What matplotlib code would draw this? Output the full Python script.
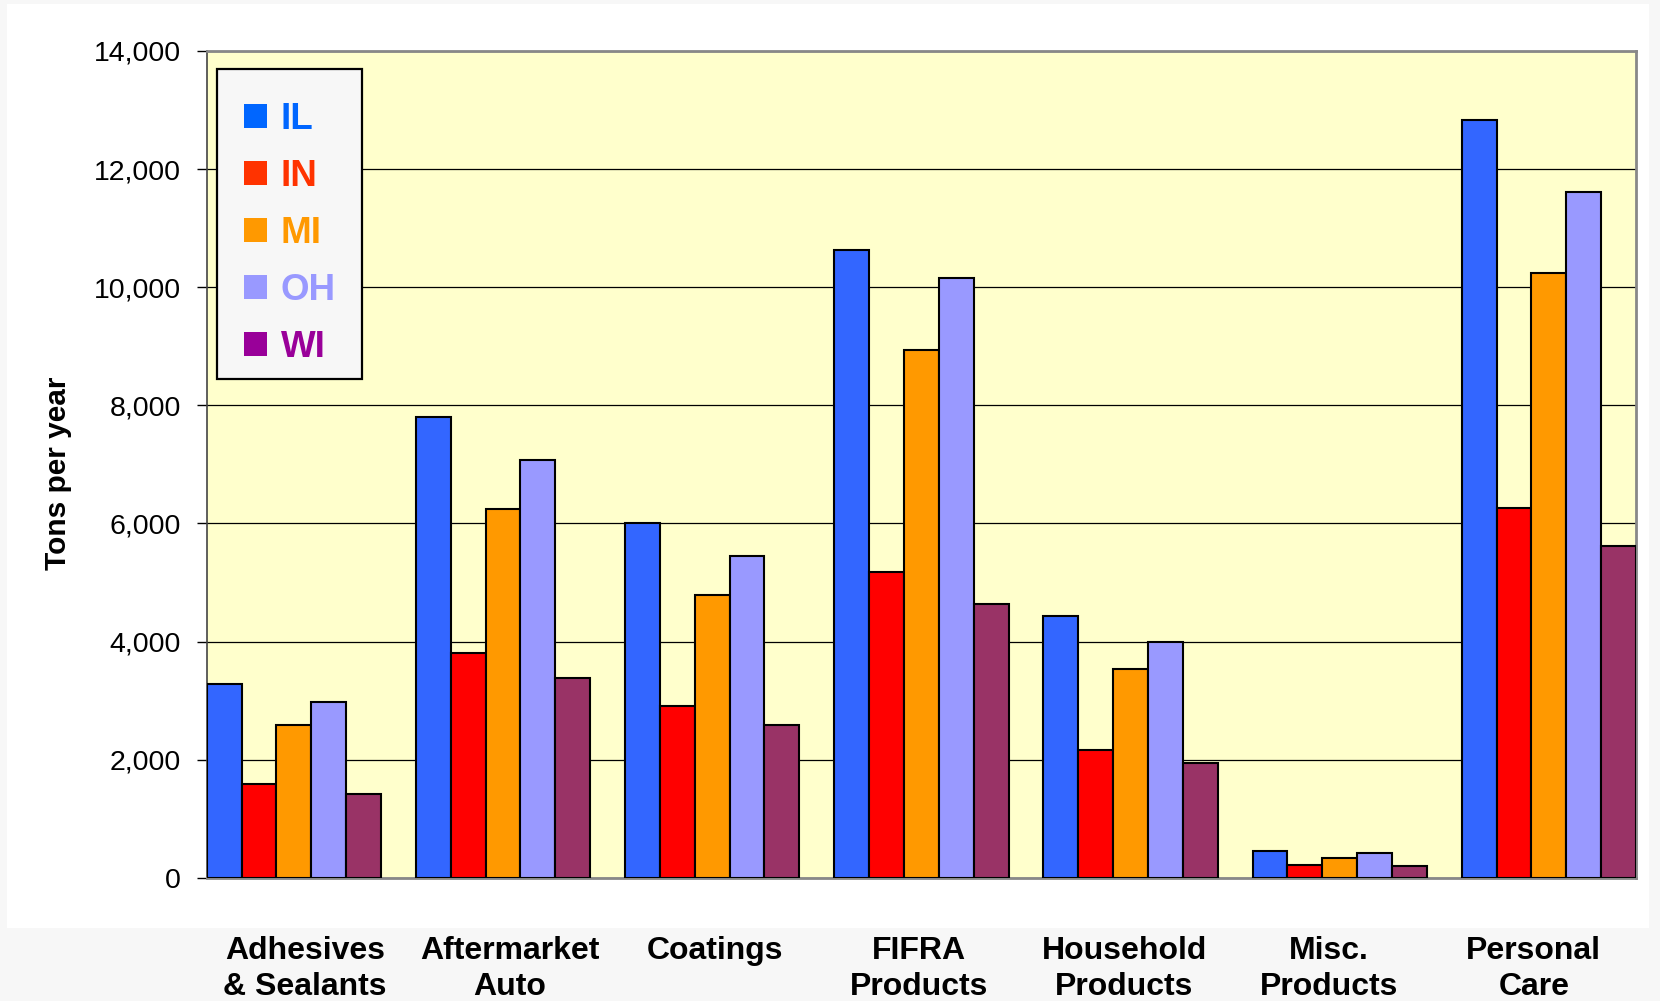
import matplotlib
matplotlib.use("Agg")
import matplotlib.pyplot as plt
import matplotlib.transforms as mtransforms
from matplotlib.patches import Patch, Rectangle
from matplotlib.ticker import FuncFormatter
import numpy as np

plt.rcParams['font.family'] = ['Liberation Sans', 'DejaVu Sans']

categories = ["Adhesives\n& Sealants", "Aftermarket\nAuto", "Coatings", "FIFRA\nProducts",
              "Household\nProducts", "Misc.\nProducts", "Personal\nCare"]
states = ["IL", "IN", "MI", "OH", "WI"]
IL = [3280, 7800, 6000, 10630, 4430, 450, 12830]
IN = [1580, 3800, 2910, 5180, 2170, 210, 6260]
MI = [2590, 6240, 4780, 8940, 3530, 340, 10240]
OH = [2970, 7070, 5440, 10150, 3990, 415, 11620]
WI = [1410, 3390, 2590, 4630, 1940, 205, 5610]
series = [IL, IN, MI, OH, WI]
bar_colors = ["#3366ff", "#ff0000", "#ff9900", "#9999ff", "#993366"]
legend_colors = ["#0066ff", "#ff3300", "#ff9900", "#9999ff", "#990099"]
yticks = [0, 2000, 4000, 6000, 8000, 10000, 12000, 14000]

W, H = 1660, 1001
fig = plt.figure(figsize=(W / 100, H / 100), dpi=100, facecolor="#f7f7f7")

# white panel
fig.patches.append(Rectangle((7 / W, 1 - 928 / H), (1649 - 7) / W, (928 - 4) / H,
                             transform=fig.transFigure, facecolor="white",
                             edgecolor="none", zorder=-10))

left, right, top, bottom = 206.7, 1636, 51, 877.7
ax = fig.add_axes([left / W, 1 - bottom / H, (right - left) / W, (bottom - top) / H])
ax.set_zorder(2)
ax.set_facecolor("#ffffcc")

x = np.arange(len(categories))
bw = 1 / 6
for j, (vals, c) in enumerate(zip(series, bar_colors)):
    ax.bar(x + (j - 2) * bw, vals, width=bw, color=c, edgecolor="black",
           linewidth=1.5, zorder=3)

ax.set_xlim(-2.5 * bw, len(categories) - 1 + 2.5 * bw)
ax.set_ylim(0, 14000)
ax.set_yticks(yticks)
ax.yaxis.set_major_formatter(FuncFormatter(lambda v, p: f"{int(v):,}"))
ax.tick_params(axis="y", labelsize=20.5, length=7.5, width=1, pad=11, color="black")
ax.set_xticks([])
ax.grid(axis="y", color="black", linewidth=0.9, zorder=1)
ax.set_axisbelow(True)
for s in ["top", "right", "bottom"]:
    ax.spines[s].set_color("#888888")
    ax.spines[s].set_linewidth(2)
ax.spines["left"].set_color("#444444")
ax.spines["left"].set_linewidth(1.2)

fig.text(58 / W, 1 - 473 / H, "Tons per year", rotation=90, ha="center", va="center",
         fontsize=21.5, fontweight="bold")

# legend frame (drawn separately so the rows sit like the original)
def ax_xy(px, py):
    return ((px - left) / (right - left), (bottom - py) / (bottom - top))

fx0, fy0 = ax_xy(217.3, 379)
fx1, fy1 = ax_xy(361.7, 69.3)
ax.add_patch(Rectangle((fx0, fy0), fx1 - fx0, fy1 - fy0, transform=ax.transAxes,
                       facecolor="#f7f7f7", edgecolor="black", linewidth=1.6, zorder=6))

handles = [Patch(facecolor=c, edgecolor="none") for c in legend_colors]
leg = ax.legend(handles, states, loc="upper left",
                bbox_to_anchor=ax_xy(217.3, 75.5),
                prop={"size": 26.5, "weight": "bold"}, frameon=False,
                handlelength=0.62, handleheight=0.62, handletextpad=0.38,
                labelspacing=0.6, borderpad=0.72, borderaxespad=0)
leg.set_zorder(7)
for t, c in zip(leg.get_texts(), legend_colors):
    t.set_color(c)

# category label row (below the white panel)
lab_left, lab_right = 202.6, 1636.2
axl = fig.add_axes([lab_left / W, 0, (lab_right - lab_left) / W, 0.01])
axl.set_xlim(-0.5, len(categories) - 0.5)
axl.axis("off")
trans = mtransforms.blended_transform_factory(axl.transData, fig.transFigure)
for i, lab in enumerate(categories):
    axl.text(i, 1 - 936 / H, lab, transform=trans, ha="center", va="top",
             fontsize=23, fontweight="bold", linespacing=1.28)

fig.savefig("out.png", dpi=100, facecolor=fig.get_facecolor())
